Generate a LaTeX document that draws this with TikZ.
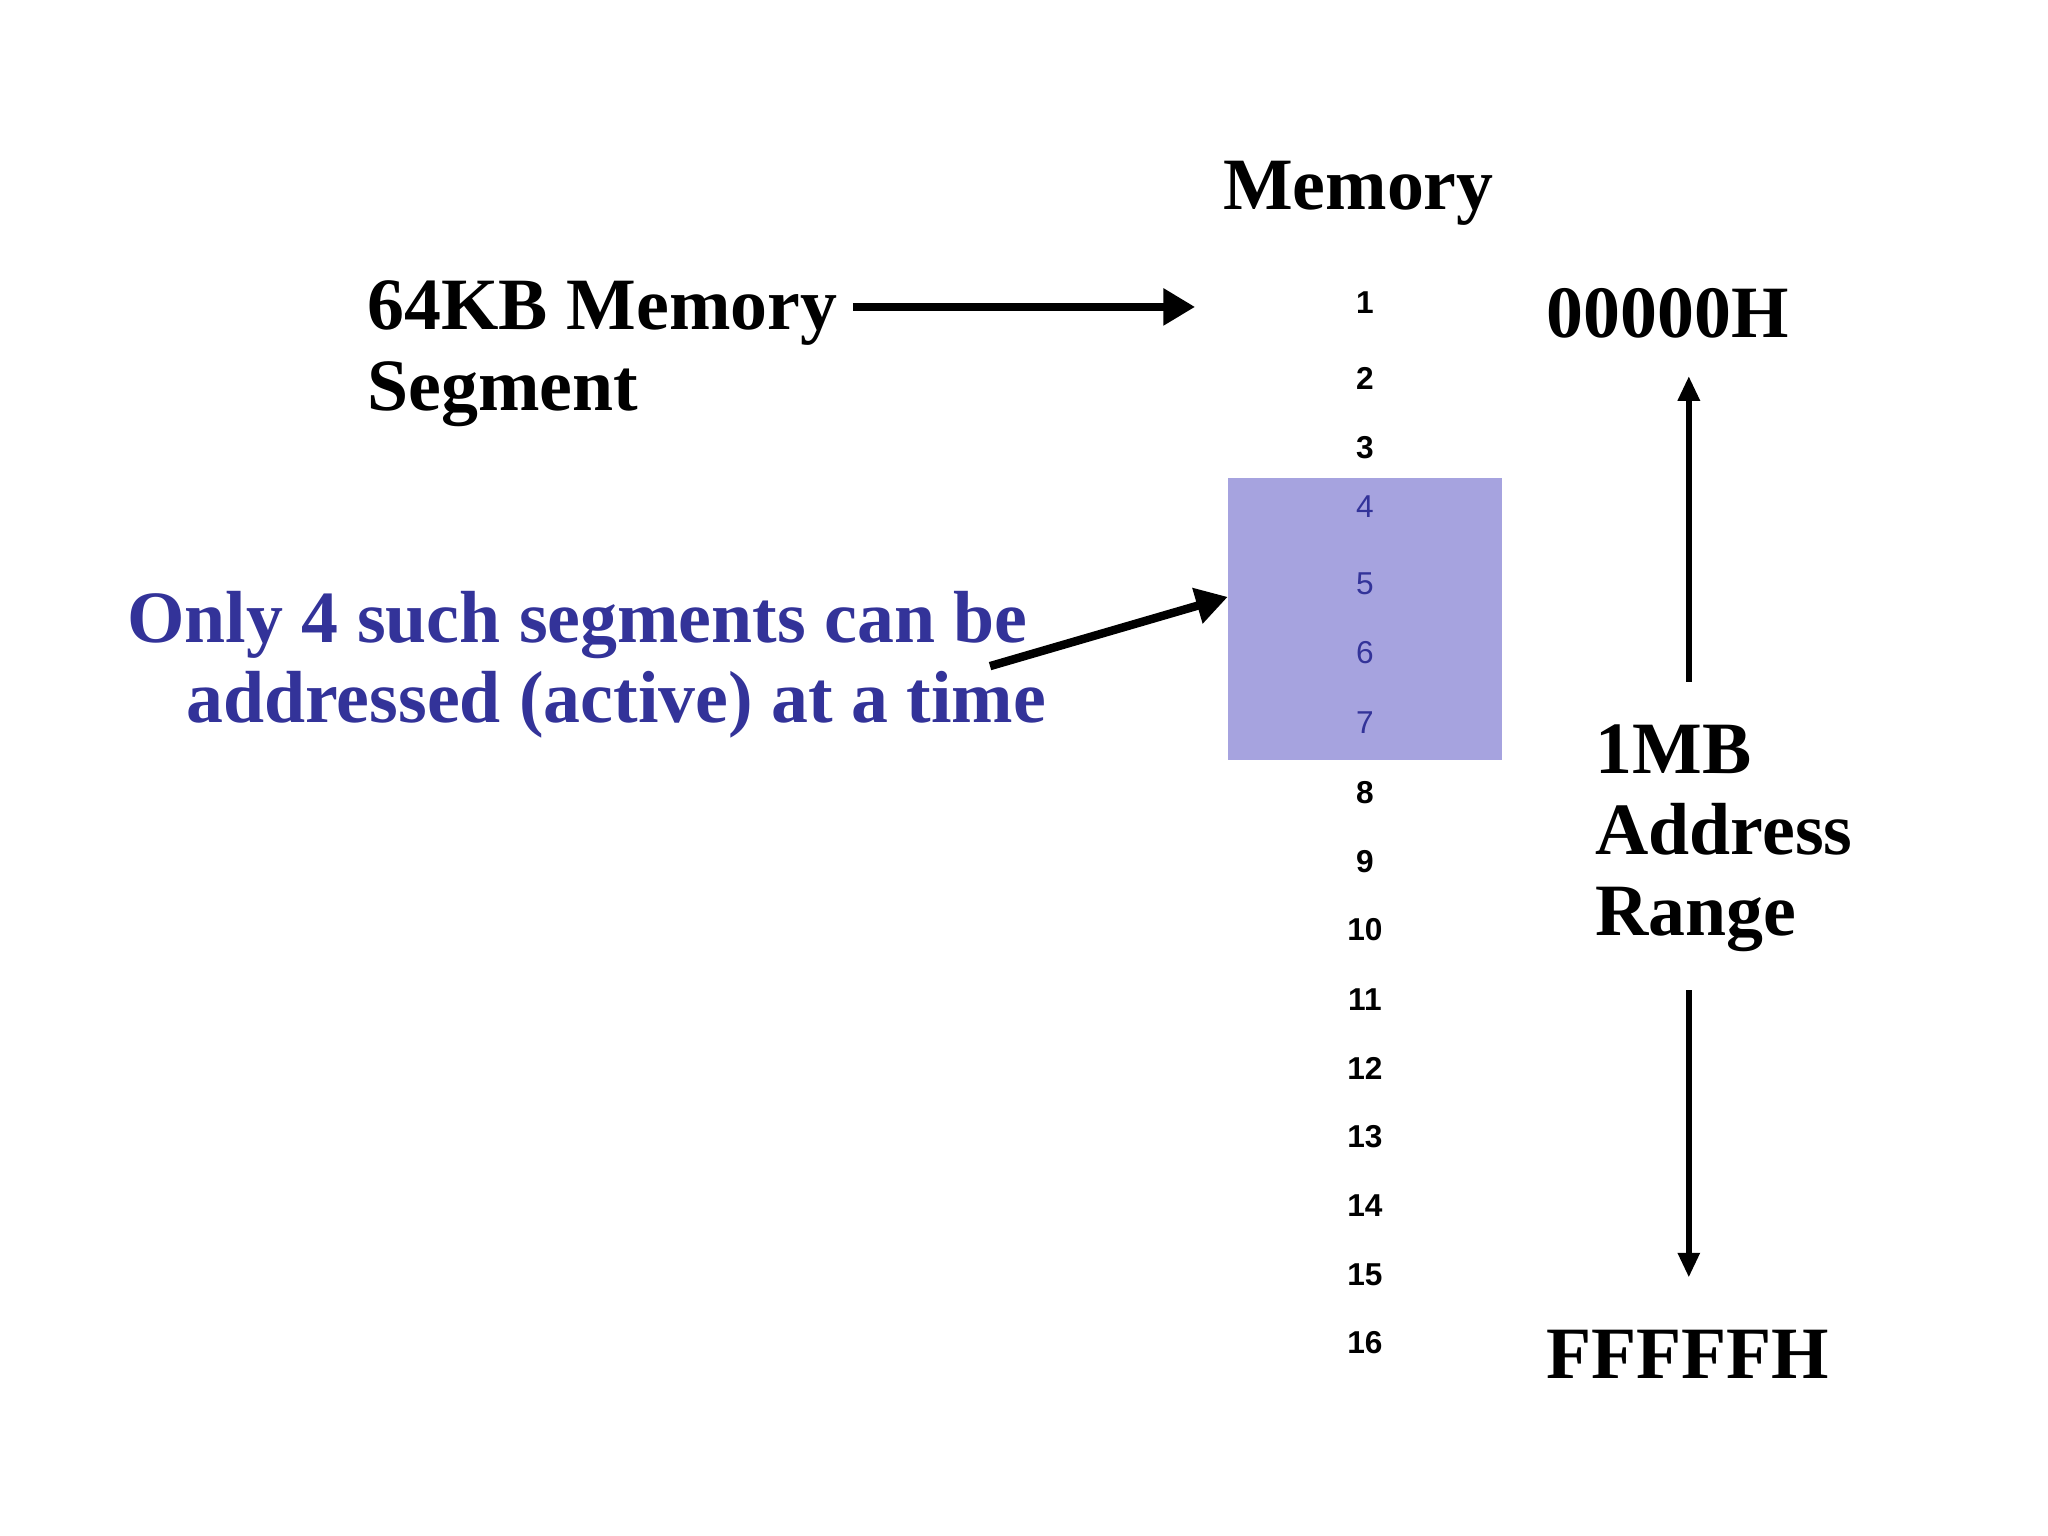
\documentclass[tikz,border=0pt]{standalone}
\usepackage{fontspec}
\setmainfont{Liberation Serif}
\setsansfont{Liberation Sans}
\definecolor{segblue}{HTML}{A6A3DF}
\definecolor{txtblue}{HTML}{333399}
\tikzset{big/.style={font=\fontsize{21}{25}\selectfont\bfseries},
  num/.style={font=\sffamily\fontsize{9}{10}\selectfont\bfseries},
  fat/.style={-{Triangle[length=9pt,width=10pt]},line width=2.4pt},
  thin/.style={-{Triangle[length=7pt,width=6pt]},line width=1.6pt}}
\usetikzlibrary{arrows.meta}
\begin{document}
\begin{tikzpicture}[x=0.01306cm,y=-0.01306cm]
        \useasboundingbox (0,0) rectangle (1568,1176);
        % the active segment
        \fill[segblue] (940,366) rectangle (1150,582);
        \node[big] (mem) at (1040,148) {Memory};
        % memory blocks
        \foreach \i/\y in {1/232,2/290,3/343,8/607,9/660,10/712,11/765,12/818,13/870,14/923,15/976,16/1028}
            \node[num] (n\i) at (1045,\y) {\i};
        \foreach \i/\y in {4/388,5/447,6/500,7/553}
            \node[num,font=\sffamily\fontsize{9}{10}\selectfont,text=txtblue] (n\i) at (1045,\y) {\i};
        \node[big,align=left,anchor=west] (seg) at (272,271) {64KB Memory\\[-2pt]Segment};
        \node[big,anchor=center] (lo) at (1277,240) {00000H};
        \node[big,anchor=center] (hi) at (1292,1037) {FFFFFH};
        \node[big,align=left,anchor=west] (rng) at (1212,642) {1MB\\[-2pt]Address\\[-2pt]Range};
        \node[big,text=txtblue,align=left,anchor=west] (only) at (88,509) {Only 4 such segments can be\\[-2pt]\hspace{0.8em}addressed (active) at a time};
        % arrows
        \coordinate (a1) at (653,235);
        \coordinate (a2) at (915,235);
        \coordinate (b1) at (758,510);
        \coordinate (b2) at (940,457);
        \coordinate (u1) at (1293,522);
        \coordinate (u2) at (1293,288);
        \coordinate (d1) at (1293,758);
        \coordinate (d2) at (1293,978);
        \draw[fat] (a1) -- (a2);
        \draw[fat] (b1) -- (b2);
        \draw[thin] (u1) -- (u2);
        \draw[thin] (d1) -- (d2);
\end{tikzpicture}
\end{document}
